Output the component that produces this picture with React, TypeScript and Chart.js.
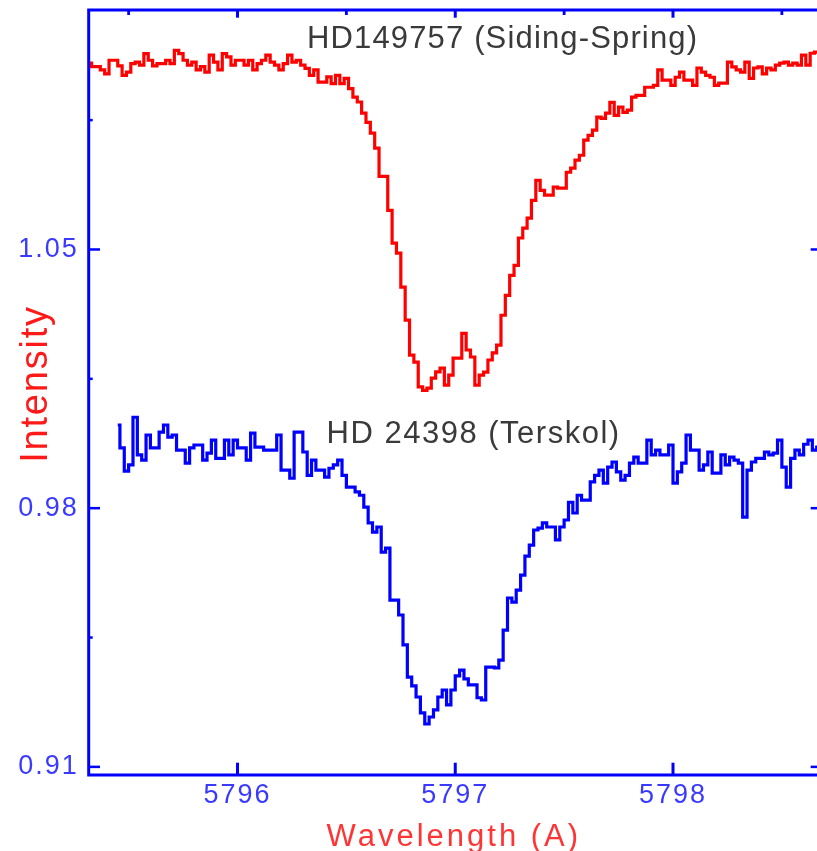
import { useEffect, useRef } from 'react';
import { Chart, registerables } from 'chart.js';

Chart.register(...registerables);

// Spectral window (Angstrom) and intensity range of the plot frame
const X_MIN = 5795.3166;
const X_MAX = 5798.6843;
const Y_MIN = 0.9078;
const Y_MAX = 1.1148;

const X_TICKS = [5796, 5797, 5798];
const X_MINOR_TICKS = [5795.5, 5796.5, 5797.5, 5798.5];
const Y_TICKS = [0.91, 0.98, 1.05];
const Y_MINOR_TICKS = [0.945, 1.015, 1.085];

// Both spectra are sampled on a uniform wavelength grid
const STEP = 0.02;
const RED_START = 5795.32;
const BLUE_START = 5795.45;

// HD 149757, Siding Spring spectrum
const RED_FLUX = [
  1.1004, 1.0995, 1.0995, 1.0986, 1.0975, 1.1012, 1.1012, 1.0997, 1.0971, 1.0980,
  1.1003, 1.1007, 1.0999, 1.1030, 1.1012, 1.0997, 1.1003, 1.1003, 1.1012, 1.1003,
  1.1039, 1.1030, 1.1012, 1.0999, 1.1007, 1.0986, 1.0995, 1.0980, 1.1026, 1.1007,
  1.0986, 1.1030, 1.1021, 1.0999, 1.1012, 1.1012, 1.0999, 1.1012, 1.0986, 1.1003,
  1.1012, 1.1026, 1.1007, 1.0999, 1.0986, 1.1003, 1.1026, 1.1007, 1.1012, 1.0999,
  1.0990, 1.0971, 1.0986, 1.0953, 1.0953, 1.0967, 1.0949, 1.0971, 1.0949, 1.0963,
  1.0935, 1.0912, 1.0899, 1.0869, 1.0844, 1.0815, 1.0774, 1.0698, 1.0698, 1.0606,
  1.0517, 1.0490, 1.0398, 1.0309, 1.0214, 1.0195, 1.0128, 1.0119, 1.0125, 1.0152,
  1.0169, 1.0179, 1.0133, 1.0160, 1.0206, 1.0206, 1.0273, 1.0228, 1.0209, 1.0133,
  1.0160, 1.0168, 1.0201, 1.0220, 1.0241, 1.0322, 1.0376, 1.0430, 1.0457, 1.0531,
  1.0558, 1.0585, 1.0633, 1.0687, 1.0660, 1.0647, 1.0647, 1.0669, 1.0666, 1.0666,
  1.0709, 1.0720, 1.0742, 1.0755, 1.0796, 1.0809, 1.0823, 1.0858, 1.0855, 1.0869,
  1.0898, 1.0863, 1.0885, 1.0871, 1.0877, 1.0912, 1.0917, 1.0917, 1.0939, 1.0939,
  1.0944, 1.0986, 1.0958, 1.0958, 1.0944, 1.0966, 1.0980, 1.0958, 1.0958, 1.0944,
  1.0991, 1.0980, 1.0971, 1.0966, 1.0944, 1.0950, 1.0950, 1.1007, 1.0994, 1.0986,
  1.0980, 1.1007, 1.0963, 1.0991, 1.0994, 1.0975, 1.0991, 1.0986, 1.0999, 1.1004,
  1.1007, 1.0999, 1.1004, 1.0999, 1.1026, 1.0999, 1.1031, 1.1034, 1.1017,
];

// HD 24398, Terskol spectrum
const BLUE_FLUX = [
  1.0025, 0.9963, 0.9900, 0.9917, 1.0046, 0.9944, 0.9930, 0.9998, 0.9963, 0.9963,
  1.0006, 1.0025, 0.9992, 0.9998, 0.9957, 0.9957, 0.9922, 0.9963, 0.9971, 0.9971,
  0.9930, 0.9949, 0.9984, 0.9935, 0.9935, 0.9984, 0.9944, 0.9984, 0.9963, 0.9963,
  0.9930, 1.0003, 0.9965, 0.9965, 0.9957, 0.9957, 0.9957, 0.9998, 0.9903, 0.9903,
  0.9881, 1.0006, 1.0006, 0.9952, 0.9889, 0.9930, 0.9903, 0.9903, 0.9884, 0.9908,
  0.9917, 0.9930, 0.9889, 0.9857, 0.9857, 0.9844, 0.9835, 0.9803, 0.9760, 0.9735,
  0.9749, 0.9681, 0.9692, 0.9551, 0.9551, 0.9511, 0.9430, 0.9343, 0.9319, 0.9289,
  0.9246, 0.9216, 0.9235, 0.9254, 0.9289, 0.9308, 0.9268, 0.9308, 0.9346, 0.9362,
  0.9338, 0.9322, 0.9322, 0.9287, 0.9281, 0.9370, 0.9370, 0.9368, 0.9389, 0.9470,
  0.9557, 0.9546, 0.9578, 0.9619, 0.9670, 0.9700, 0.9741, 0.9746, 0.9760, 0.9749,
  0.9749, 0.9714, 0.9749, 0.9768, 0.9816, 0.9787, 0.9835, 0.9822, 0.9822, 0.9871,
  0.9889, 0.9903, 0.9868, 0.9911, 0.9925, 0.9898, 0.9876, 0.9889, 0.9922, 0.9938,
  0.9922, 0.9922, 0.9984, 0.9944, 0.9957, 0.9944, 0.9944, 0.9971, 0.9868, 0.9898,
  0.9922, 0.9998, 0.9957, 0.9957, 0.9903, 0.9917, 0.9952, 0.9895, 0.9895, 0.9944,
  0.9917, 0.9938, 0.9930, 0.9922, 0.9776, 0.9903, 0.9925, 0.9935, 0.9935, 0.9952,
  0.9944, 0.9949, 0.9984, 0.9911, 0.9857, 0.9935, 0.9957, 0.9944, 0.9973, 0.9984,
  0.9957, 0.9965,
];

// Star labels, anchored in data coordinates (left end of text, baseline)
const LABELS = [
  { text: 'HD149757 (Siding-Spring)', x: 5796.319, y: 1.1045, spacing: 1.15 },
  { text: 'HD 24398 (Terskol)', x: 5796.409, y: 0.99753, spacing: 1.5 },
];

const X_TITLE = 'Wavelength (A)';
const Y_TITLE = 'Intensity';

const FONT = "'Liberation Sans', Arial, Helvetica, sans-serif";
const AXIS_BLUE = '#0000ff';
const TICK_TEXT = '#3a3aff';

const toPoints = (start: number, values: number[]) =>
  values.map((v, i) => ({ x: +(start + i * STEP).toFixed(2), y: v }));

function drawText(
  ctx: CanvasRenderingContext2D,
  text: string,
  x: number,
  y: number,
  size: number,
  color: string,
  spacing: number,
  align: CanvasTextAlign,
  rotation = 0,
) {
  ctx.save();
  ctx.translate(x, y);
  if (rotation) ctx.rotate(rotation);
  ctx.font = `${size}px ${FONT}`;
  (ctx as any).letterSpacing = `${spacing}px`;
  ctx.fillStyle = color;
  ctx.textAlign = align;
  ctx.textBaseline = 'alphabetic';
  ctx.fillText(text, 0, 0);
  ctx.restore();
}

// Blue frame with inward ticks on all four sides
const framePlugin = {
  id: 'spectrumFrame',
  afterDatasetsDraw(chart: any) {
    const { ctx, chartArea: a, scales } = chart;
    const xs = scales.x;
    const ys = scales.y;
    ctx.save();
    ctx.strokeStyle = AXIS_BLUE;
    ctx.fillStyle = AXIS_BLUE;
    ctx.lineWidth = 3;
    ctx.strokeRect(a.left, a.top, a.right - a.left, a.bottom - a.top);
    X_TICKS.forEach((v) => {
      const px = xs.getPixelForValue(v);
      ctx.fillRect(px - 1.5, a.bottom - 12.3, 3, 12.3);
      ctx.fillRect(px - 1.5, a.top, 3, 7.7);
    });
    X_MINOR_TICKS.forEach((v) => {
      const px = xs.getPixelForValue(v);
      ctx.fillRect(px - 1.4, a.top, 2.8, 5);
    });
    Y_TICKS.forEach((v) => {
      const py = ys.getPixelForValue(v);
      ctx.fillRect(a.left, py - 1.25, 11.3, 2.5);
      ctx.fillRect(a.right - 11.3, py - 1.25, 11.3, 2.5);
    });
    Y_MINOR_TICKS.forEach((v) => {
      const py = ys.getPixelForValue(v);
      ctx.fillRect(a.left, py - 1.25, 4, 2.5);
      ctx.fillRect(a.right - 4, py - 1.25, 4, 2.5);
    });
    ctx.restore();
  },
};

// Axis titles and star labels
const textPlugin = {
  id: 'spectrumText',
  beforeDraw(chart: any) {
    (chart.ctx as any).letterSpacing = '2px';
  },
  afterDraw(chart: any) {
    const { ctx, chartArea: a, scales } = chart;
    (ctx as any).letterSpacing = '0px';
    LABELS.forEach((l) => {
      drawText(
        ctx,
        l.text,
        scales.x.getPixelForValue(l.x),
        scales.y.getPixelForValue(l.y),
        31,
        '#3a3a3a',
        l.spacing,
        'left',
      );
    });
    drawText(ctx, X_TITLE, (a.left + a.right) / 2 - 1.5, 845.5, 31, '#ff3535', 3, 'center');
    drawText(ctx, Y_TITLE, 47, 384, 38, '#ff1a1a', 1.8, 'center', -Math.PI / 2);
  },
};

export default function App() {
  const canvasRef = useRef<HTMLCanvasElement | null>(null);

  useEffect(() => {
    const canvas = canvasRef.current;
    if (!canvas) return;
    const chart = new Chart(canvas, {
      type: 'line',
      data: {
        datasets: [
          {
            label: 'HD 149757',
            data: toPoints(RED_START, RED_FLUX),
            borderColor: '#ff0000',
            borderWidth: 3.2,
            pointRadius: 0,
            stepped: 'middle',
            fill: false,
            borderJoinStyle: 'miter',
            borderCapStyle: 'butt',
          },
          {
            label: 'HD 24398',
            data: toPoints(BLUE_START, BLUE_FLUX),
            borderColor: '#0000ff',
            borderWidth: 3.2,
            pointRadius: 0,
            stepped: 'middle',
            fill: false,
            borderJoinStyle: 'miter',
            borderCapStyle: 'butt',
          },
        ],
      },
      options: {
        animation: false,
        responsive: false,
        devicePixelRatio: 1,
        layout: { padding: { left: 0, top: 10, right: 18, bottom: 0 } },
        plugins: { legend: { display: false }, tooltip: { enabled: false } },
        events: [],
        scales: {
          x: {
            type: 'linear',
            min: X_MIN,
            max: X_MAX,
            afterBuildTicks: (s: any) => {
              s.ticks = X_TICKS.map((value) => ({ value }));
            },
            afterFit: (s: any) => {
              s.height = 76;
              s.paddingLeft = 0;
              s.paddingRight = 0;
              s.paddingTop = 0;
              s.paddingBottom = 0;
            },
            grid: { display: false, drawTicks: false },
            border: { display: false },
            ticks: {
              padding: 7,
              color: TICK_TEXT,
              autoSkip: false,
              maxRotation: 0,
              font: { family: FONT, size: 27, lineHeight: 1 },
              callback: (v: any) => String(v),
            },
          },
          y: {
            type: 'linear',
            min: Y_MIN,
            max: Y_MAX,
            afterBuildTicks: (s: any) => {
              s.ticks = Y_TICKS.map((value) => ({ value }));
            },
            afterFit: (s: any) => {
              s.width = 88.7;
              s.paddingLeft = 0;
              s.paddingRight = 0;
              s.paddingTop = 0;
              s.paddingBottom = 0;
            },
            grid: { display: false, drawTicks: false },
            border: { display: false },
            ticks: {
              padding: 10,
              color: TICK_TEXT,
              autoSkip: false,
              font: { family: FONT, size: 27, lineHeight: 1 },
              callback: (v: any) => Number(v).toFixed(2),
            },
          },
        },
      },
      plugins: [framePlugin, textPlugin],
    });
    return () => chart.destroy();
  }, []);

  return (
    <div
      style={{
        position: 'fixed',
        left: 0,
        top: 0,
        width: 817,
        height: 851,
        overflow: 'hidden',
        background: '#ffffff',
      }}
    >
      <canvas ref={canvasRef} width={840} height={851} style={{ display: 'block' }} />
    </div>
  );
}
